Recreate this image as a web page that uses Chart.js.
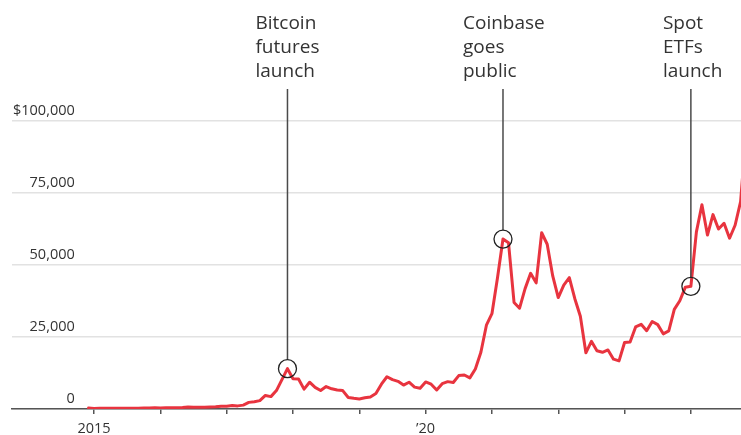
<!DOCTYPE html>
<html>
<head>
<meta charset="utf-8">
<script src="https://cdn.jsdelivr.net/npm/chart.js@4.4.1/dist/chart.umd.min.js"></script>
<style>
  html, body { margin: 0; padding: 0; background: #ffffff; }
  #wrap { position: relative; width: 741px; height: 435px; }
</style>
</head>
<body>
<div id="wrap"><canvas id="c"></canvas></div>
<script>
// ---- Data: monthly Bitcoin closing price (USD), first point = Dec 2014 ----
const firstMonthOffset = -1; // months relative to Jan 2015
const prices = [
  320,
  // 2015
  217, 254, 244, 236, 230, 263, 284, 230, 236, 314, 378, 430,
  // 2016
  368, 437, 416, 448, 531, 673, 624, 575, 609, 701, 742, 963,
  // 2017
  970, 1190, 1080, 1350, 2300, 2500, 2900, 4700, 4300, 6400, 10200, 14000,
  // 2018
  10500, 10400, 6900, 9300, 7500, 6400, 7800, 7000, 6600, 6400, 4000, 3700,
  // 2019
  3500, 3900, 4200, 5400, 8600, 11200, 10200, 9600, 8300, 9300, 7600, 7200,
  // 2020
  9400, 8600, 6600, 8800, 9500, 9200, 11600, 11800, 10800, 13900, 19700, 29100,
  // 2021
  33100, 45500, 59000, 57700, 37000, 35000, 41800, 47100, 43800, 61200, 57200, 46200,
  // 2022
  38700, 43000, 45600, 38300, 32200, 19500, 23500, 20200, 19700, 20500, 17300, 16700,
  // 2023
  23100, 23300, 28500, 29400, 27200, 30400, 29300, 26100, 27100, 34600, 37600, 42300,
  // 2024
  42600, 61500, 70900, 60400, 67500, 62500, 64500, 59300, 63800, 72000, 96500
];

const xTickValues = [0, 12, 24, 36, 48, 60, 72, 84, 96, 108];
const xTickLabels = ['2015', '', '', '', '', '\u201920', '', '', '', ''];
const yTickValues = [0, 25000, 50000, 75000, 100000];
const yTickLabels = ['0', '25,000', '50,000', '75,000', '$100,000'];

const eventMonths = [35, 74, 108];
const eventTexts = [
  ['Bitcoin', 'futures', 'launch'],
  ['Coinbase', 'goes', 'public'],
  ['Spot', 'ETFs', 'launch']
];

// ---- Styling ----
const textOffsets = [-32, -40, -28];
const lineColor = '#e8343f';
const FONT = "'Open Sans', 'Noto Sans', sans-serif";

const points = prices.map((p, i) => ({ x: firstMonthOffset + i, y: p }));

const annotationPlugin = {
  id: 'events',
  afterDatasetsDraw(chart) {
    const { ctx, scales } = chart;
    ctx.save();
    eventMonths.forEach((m, k) => {
      const value = prices[m - firstMonthOffset];
      const px = scales.x.getPixelForValue(m);
      const py = scales.y.getPixelForValue(value);
      const r = 9;
      // leader line
      ctx.strokeStyle = '#4a4a4a';
      ctx.lineWidth = 1.5;
      ctx.beginPath();
      ctx.moveTo(px, 89);
      ctx.lineTo(px, py - r);
      ctx.stroke();
      // circle
      ctx.strokeStyle = '#222222';
      ctx.lineWidth = 1.3;
      ctx.beginPath();
      ctx.arc(px, py, r, 0, Math.PI * 2);
      ctx.stroke();
      // text
      ctx.fillStyle = '#333333';
      ctx.font = "19px " + FONT;
      ctx.textAlign = 'left';
      ctx.textBaseline = 'alphabetic';
      eventTexts[k].forEach((t, j) => {
        ctx.fillText(t, px + textOffsets[k], 29 + j * 24);
      });
    });
    ctx.restore();
  }
};

new Chart(document.getElementById('c'), {
  type: 'line',
  data: {
    datasets: [{
      data: points,
      borderColor: lineColor,
      borderWidth: 3,
      pointRadius: 0,
      tension: 0,
      fill: false,
      borderJoinStyle: 'round',
      borderCapStyle: 'round'
    }]
  },
  options: {
    responsive: true,
    maintainAspectRatio: false,
    animation: false,
    devicePixelRatio: 1,
    layout: { padding: { top: 121, left: 10, right: 0, bottom: 0 } },
    plugins: { legend: { display: false }, tooltip: { enabled: false } },
    scales: {
      x: {
        type: 'linear',
        min: -14.85,
        max: 117.07,
        afterBuildTicks: (scale) => { scale.ticks = xTickValues.map(v => ({ value: v })); },
        afterFit: (scale) => { scale.height = 26; },
        grid: { drawOnChartArea: false, drawTicks: true, tickLength: 5, color: '#555555', lineWidth: 1.5 },
        border: { display: true, color: '#555555', width: 1.5 },
        ticks: {
          autoSkip: false,
          maxRotation: 0,
          padding: 6,
          color: '#333333',
          font: { family: FONT, size: 14.5 },
          callback: (v) => { const i = xTickValues.indexOf(v); return i >= 0 ? xTickLabels[i] : ''; }
        }
      },
      y: {
        min: 0,
        max: 100000,
        afterBuildTicks: (scale) => { scale.ticks = yTickValues.map(v => ({ value: v })); },
        grid: { drawTicks: false, tickLength: 0, color: '#e2e2e2', lineWidth: 1.5 },
        border: { display: false },
        ticks: {
          mirror: true,
          crossAlign: 'far',
          padding: 1,
          labelOffset: -10,
          color: '#333333',
          font: { family: FONT, size: 14.5 },
          callback: (v) => { const i = yTickValues.indexOf(v); return i >= 0 ? yTickLabels[i] : ''; }
        }
      }
    }
  },
  plugins: [annotationPlugin]
});
</script>
</body>
</html>
